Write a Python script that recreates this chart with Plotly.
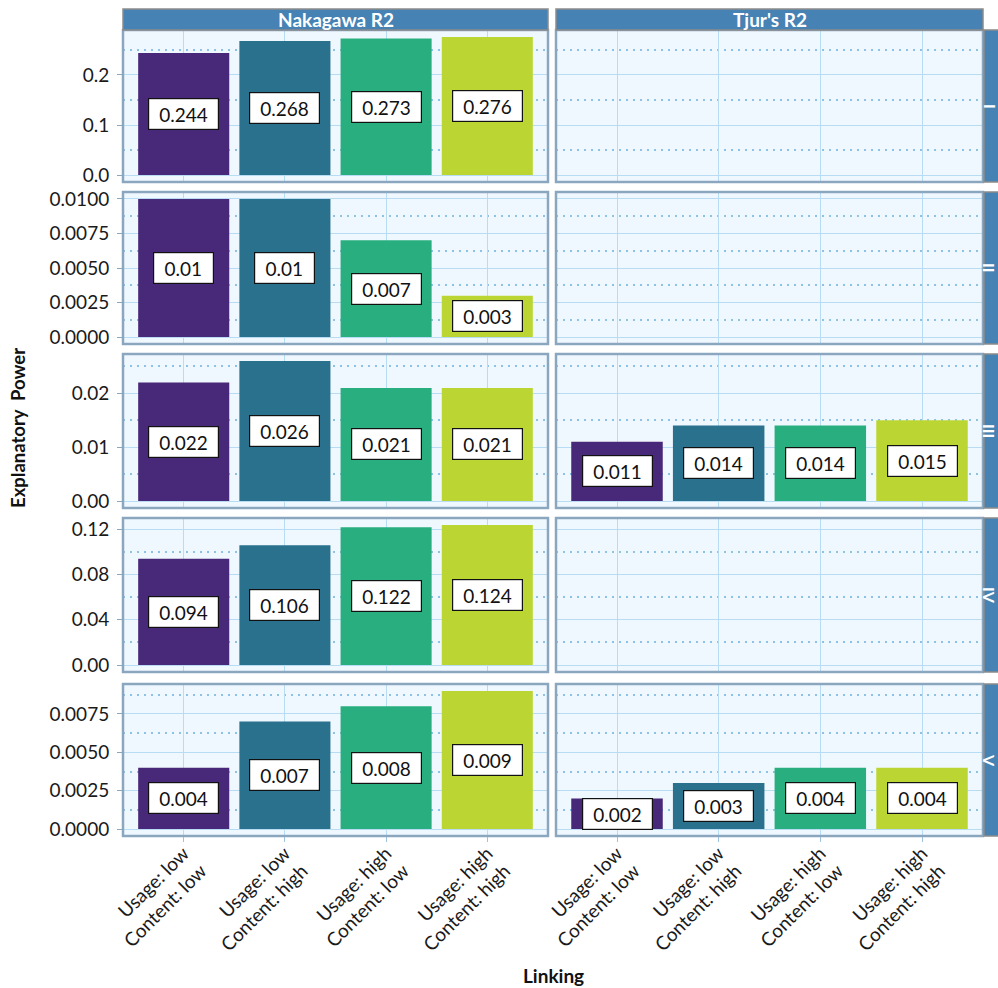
import plotly.graph_objects as go

W, H = 998, 988

# ---------------- data ----------------
categories = ["Usage: low<br>Content: low", "Usage: low<br>Content: high",
              "Usage: high<br>Content: low", "Usage: high<br>Content: high"]
row_labels = ["I", "II", "III", "IV", "V"]
column_labels = ["Nakagawa R2", "Tjur's R2"]

nakagawa_I = [0.244, 0.268, 0.273, 0.276]
nakagawa_II = [0.010, 0.010, 0.007, 0.003]
nakagawa_III = [0.022, 0.026, 0.021, 0.021]
nakagawa_IV = [0.094, 0.106, 0.122, 0.124]
nakagawa_V = [0.004, 0.007, 0.008, 0.009]

tjur_III = [0.011, 0.014, 0.014, 0.015]
tjur_V = [0.002, 0.003, 0.004, 0.004]

label_I = ["0.244", "0.268", "0.273", "0.276"]
label_II = ["0.01", "0.01", "0.007", "0.003"]
label_III = ["0.022", "0.026", "0.021", "0.021"]
label_IV = ["0.094", "0.106", "0.122", "0.124"]
label_V = ["0.004", "0.007", "0.008", "0.009"]
label_tjur_III = ["0.011", "0.014", "0.014", "0.015"]
label_tjur_V = ["0.002", "0.003", "0.004", "0.004"]

# panels: (row, column) -> (values, labels)
panels = {
    (0, 0): (nakagawa_I, label_I),
    (1, 0): (nakagawa_II, label_II),
    (2, 0): (nakagawa_III, label_III),
    (3, 0): (nakagawa_IV, label_IV),
    (4, 0): (nakagawa_V, label_V),
    (2, 1): (tjur_III, label_tjur_III),
    (4, 1): (tjur_V, label_tjur_V),
}

major_step = [0.1, 0.0025, 0.01, 0.04, 0.0025]
tick_format = [".1f", ".4f", ".2f", ".2f", ".4f"]

# ---------------- style ----------------
bar_colors = ["#482878", "#29718D", "#29AF7F", "#BBD632"]
FONT = "Lato, 'Open Sans', sans-serif"
panel_bg = "#F0F8FF"
grid_col = "#B7DCF3"
minor_col = "#8EC2E4"
border_col = "#8AA7BF"
strip_fill = "#4682B4"
strip_border = "#8C8C8C"

col_px = [(123, 548), (556, 983)]
row_px = [(30, 182), (192, 344), (354, 508), (518, 672), (684, 836)]


def px_x(v):
    return v / W


def px_y(v):
    return 1 - v / H


def label_width(s):
    digits = sum(ch.isdigit() for ch in s)
    return 10.4 * digits + 5 * (len(s) - digits) + 16


fig = go.Figure()
layout = dict()
shapes = []
annotations = []

for r in range(5):
    row_vals = []
    for c in range(2):
        if (r, c) in panels:
            row_vals += panels[(r, c)][0]
    ymax = max(row_vals)
    yrange = [-0.05 * ymax, 1.05 * ymax]
    for c in range(2):
        k = r * 2 + c + 1
        xa = "xaxis" if k == 1 else f"xaxis{k}"
        ya = "yaxis" if k == 1 else f"yaxis{k}"
        xr = "x" if k == 1 else f"x{k}"
        yr = "y" if k == 1 else f"y{k}"
        x0, x1 = col_px[c]
        y0, y1 = row_px[r]
        bottom = (r == 4)
        layout[xa] = dict(
            domain=[px_x(x0), px_x(x1)], anchor=yr, type="category",
            categoryorder="array", categoryarray=categories,
            range=[-0.6, 3.6], showgrid=True, gridcolor=grid_col, gridwidth=1.3,
            zeroline=False, showline=False, automargin=False,
            showticklabels=bottom, ticks="outside" if bottom else "",
            ticklen=5, tickwidth=1.3, tickcolor="#9CC3E0", tickangle=-45,
            ticklabelstandoff=-7,
            tickfont=dict(family=FONT, size=19, color="#1a1a1a"),
        )
        layout[ya] = dict(
            domain=[px_y(y1), px_y(y0)], anchor=xr, range=yrange,
            dtick=major_step[r], tick0=0, tickformat=tick_format[r],
            showgrid=True, gridcolor=grid_col, gridwidth=1.3,
            minor=dict(dtick=major_step[r] / 2, tick0=0, showgrid=True,
                       gridcolor=minor_col, griddash="2px,5px", gridwidth=1.6),
            zeroline=False, showline=False, automargin=False,
            showticklabels=(c == 0), ticks="outside" if c == 0 else "",
            ticklen=5, tickwidth=1.3, tickcolor=border_col, ticklabelstandoff=4,
            tickfont=dict(family=FONT, size=19, color="#1a1a1a"),
        )
        if (r, c) in panels:
            vals, labs = panels[(r, c)]
            fig.add_trace(go.Bar(
                x=categories, y=vals, width=0.9,
                marker=dict(color=bar_colors, line=dict(width=0)),
                xaxis=xr, yaxis=yr, showlegend=False, hoverinfo="skip",
            ))
            for cat, v, lab in zip(categories, vals, labs):
                annotations.append(dict(
                    x=cat, y=v / 2, xref=xr, yref=yr, text=lab, showarrow=False,
                    xanchor="center", yanchor="middle",
                    width=label_width(lab), height=24,
                    font=dict(family=FONT, size=19, color="#111111"),
                    bgcolor="white", bordercolor="#111111", borderwidth=1.2, borderpad=3,
                ))
        else:
            fig.add_trace(go.Bar(x=categories, y=[None] * 4, xaxis=xr, yaxis=yr,
                                 showlegend=False, hoverinfo="skip"))
        shapes.append(dict(type="rect", xref="paper", yref="paper",
                           x0=px_x(x0), x1=px_x(x1), y0=px_y(y1), y1=px_y(y0),
                           line=dict(color=border_col, width=2.5), layer="above"))

    # right strip (runs off the right edge as in the reference)
    y0, y1 = row_px[r]
    shapes.append(dict(type="rect", xref="paper", yref="paper",
                       x0=px_x(984), x1=px_x(1010), y0=px_y(y1), y1=px_y(y0),
                       fillcolor=strip_fill, line=dict(color=strip_border, width=1.5)))
    annotations.append(dict(x=px_x(990), y=px_y((y0 + y1) / 2), xref="paper", yref="paper",
                            xanchor="center", yanchor="middle",
                            text=f"<b>{row_labels[r]}</b>", showarrow=False, textangle=90,
                            font=dict(family=FONT, size=16, color="white")))

# top strips
for c in range(2):
    x0, x1 = col_px[c]
    shapes.append(dict(type="rect", xref="paper", yref="paper",
                       x0=px_x(x0), x1=px_x(x1), y0=px_y(30), y1=px_y(9),
                       fillcolor=strip_fill, line=dict(color=strip_border, width=1.5)))
    annotations.append(dict(x=px_x((x0 + x1) / 2), y=px_y(19.5), xref="paper", yref="paper",
                            xanchor="center", yanchor="middle",
                            text=f"<b>{column_labels[c]}</b>", showarrow=False,
                            font=dict(family=FONT, size=19, color="white")))

# axis titles
annotations.append(dict(x=px_x(18), y=px_y(428), xref="paper", yref="paper",
                        xanchor="center", yanchor="middle",
                        text="<b>Explanatory  Power</b>", showarrow=False, textangle=-90,
                        font=dict(family=FONT, size=18.5, color="#111111")))
annotations.append(dict(x=px_x(553), y=px_y(975), xref="paper", yref="paper",
                        xanchor="center", yanchor="middle",
                        text="<b>Linking</b>", showarrow=False,
                        font=dict(family=FONT, size=19, color="#111111")))

fig.update_layout(
    width=W, height=H, margin=dict(l=0, r=0, t=0, b=0),
    paper_bgcolor="white", plot_bgcolor=panel_bg,
    shapes=shapes, annotations=annotations, barmode="overlay",
    font=dict(family=FONT), showlegend=False,
    **layout,
)

fig.write_html("out.html", config={"displayModeBar": False},
               post_script="document.body.style.margin='0px';document.body.style.overflow='hidden';")
